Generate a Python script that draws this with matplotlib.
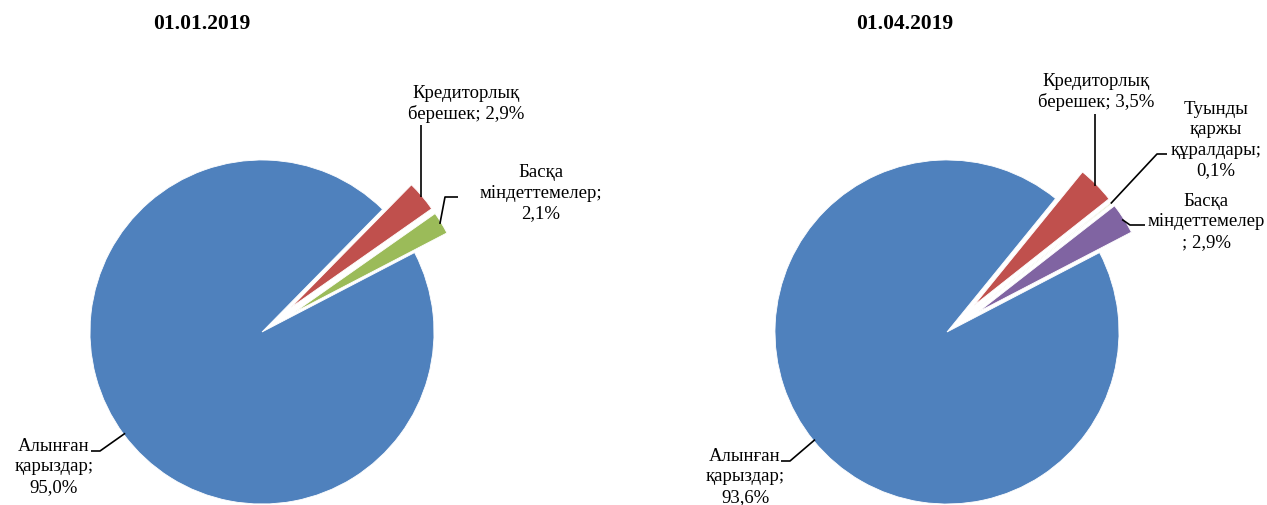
import numpy as np
import matplotlib
matplotlib.use("Agg")
import matplotlib.pyplot as plt

W, H = 1267, 506

# data
titles = ["01.01.2019", "01.04.2019"]
labels_jan = ["Алынған\nқарыздар;\n95,0%", "Кредиторлық\nберешек; 2,9%", "Басқа\nміндеттемелер;\n2,1%"]
values_jan = [95.0, 2.9, 2.1]
labels_apr = ["Алынған\nқарыздар;\n93,6%", "Кредиторлық\nберешек; 3,5%",
              "Туынды\nқаржы\nқұралдары;\n0,1%", "Басқа\nміндеттемелер\n; 2,9%"]
values_apr = [93.6, 3.5, 0.1, 2.9]

colors_jan = ["#4F81BD", "#C0504D", "#9BBB59"]
colors_apr = ["#4F81BD", "#C0504D", "#9BBB59", "#8064A2"]

plt.rcParams["font.family"] = ["Liberation Serif", "DejaVu Serif"]

R = 172


def py(y):
    # pixel row -> data y
    return H - y


fig = plt.figure(figsize=(W / 100, H / 100), dpi=100)
ax = fig.add_axes([0, 0, 1, 1])


def draw_pie(values, colors, labels, center, title_xy, text_pos, leaders):
    # explode is in data units here (pixels)
    explode = [0.0] + [0.22 * R] * (len(values) - 1)
    wedges, _ = ax.pie(values, colors=colors, startangle=27.5, counterclock=False,
                       explode=explode, center=(center[0], py(center[1])), radius=R,
                       frame=True, wedgeprops=dict(edgecolor="white", linewidth=0.6))
    ax.text(title_xy[0], py(title_xy[1]), title_xy[2], ha="center", va="center",
            fontsize=15.5, fontweight="bold")
    for w, lab, tp, lead in zip(wedges, labels, text_pos, leaders):
        ax.text(tp[0], py(tp[1]), lab, ha="center", va="center", fontsize=13.5,
                linespacing=1.26)
        mid = np.deg2rad((w.theta1 + w.theta2) / 2)
        rr = w.r * 0.99
        axp = w.center[0] + rr * np.cos(mid)
        ayp = w.center[1] + rr * np.sin(mid)
        if lead[0] == "v":
            xs, ys = [axp, axp], [py(lead[1]), ayp]
        else:
            xs = [lead[1], lead[2], axp]
            ys = [py(lead[3]), py(lead[3]), ayp]
        ax.plot(xs, ys, color="black", lw=1.2, solid_capstyle="butt")


draw_pie(values_jan, colors_jan, labels_jan, (262, 333), (202, 24, titles[0]),
         [(54, 467), (466, 104), (541, 193)],
         [("h", 91, 100, 452), ("v", 126), ("h", 458, 445, 198)])

draw_pie(values_apr, colors_apr, labels_apr, (947, 333), (905, 24, titles[1]),
         [(745, 477), (1096, 92), (1216, 140), (1206, 222)],
         [("h", 781, 790, 462), ("v", 115), ("h", 1167, 1157, 155), ("h", 1145, 1130, 226)])

ax.set_xlim(0, W)
ax.set_ylim(0, H)
ax.set_axis_off()

fig.savefig("out.png", dpi=100)
